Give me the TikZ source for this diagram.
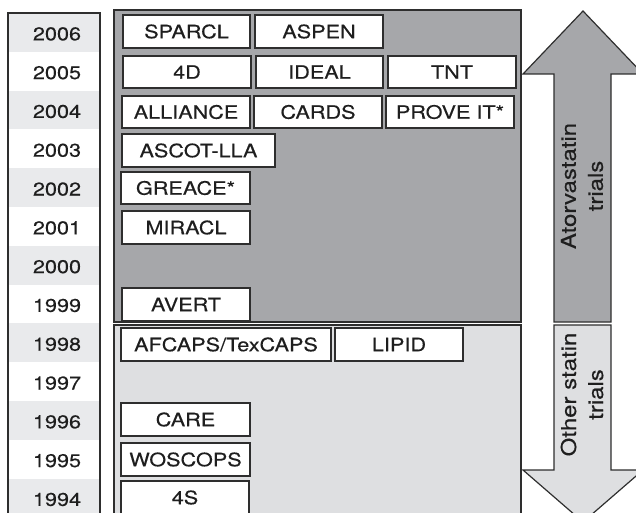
\documentclass[tikz,border=0pt]{standalone}
\usepackage{fontspec}
\setmainfont{TeX Gyre Heros}[FakeStretch=1.17,FakeBold=0.3]
\definecolor{darkpanel}{HTML}{A6A7AA}
\definecolor{lightpanel}{HTML}{DEDFE1}
\definecolor{yeargray}{HTML}{E9EAEC}
\definecolor{inkline}{HTML}{2E2E2E}
\definecolor{inktext}{HTML}{1E1E1E}
\begin{document}
\begin{tikzpicture}[x=1pt,y=-1pt,
  tbox/.style={draw=inkline, fill=white, line width=1.2pt, inner sep=0pt,
    minimum height=33pt, text=inktext, font=\fontsize{18.5}{20}\selectfont},
  yearlab/.style={text=inktext, font=\fontsize{18.5}{20}\selectfont},
  panel/.style={draw=inkline, line width=1.2pt},
  rotlab/.style={rotate=90, align=center, text=inktext,
    font=\fontsize{20.5}{27}\selectfont}]
\useasboundingbox (0,0) rectangle (636,513);
\clip (0,0) rectangle (636,513);
% year column
\foreach \i/\yr in {0/2006,1/2005,2/2004,3/2003,4/2002,5/2001,6/2000,7/1999,8/1998,9/1997,10/1996,11/1995,12/1994}{
  \pgfmathtruncatemacro{\odd}{mod(\i,2)}
  \ifnum\odd=0
    \fill[yeargray] (8,{13+38.8*\i}) rectangle (100,{13+38.8*(\i+1)});
  \fi
  \node[yearlab] (y\yr) at (57,{13+38.8*(\i+0.5)+1.5}) {\yr};
}
\draw[panel] (8,530) -- (8,13) -- (100,13) -- (100,530);
% panels
\draw[panel, fill=darkpanel] (114,10) rectangle (521,322);
\draw[panel, fill=lightpanel] (114,325) rectangle (521,530);
% arrows
\draw[panel, fill=darkpanel] (554,322) -- (554,74) -- (523,74) -- (583,11) -- (643,74) -- (611,74) -- (611,322) -- cycle;
\draw[panel, fill=lightpanel] (554,325) -- (554,470) -- (523,470) -- (583,522) -- (643,470) -- (611,470) -- (611,325) -- cycle;
\node[rotlab] (ator) at (582,186) {Atorvastatin\\trials};
\node[rotlab] (other) at (582,394.5) {Other statin\\trials};
% trial boxes
\node[tbox, minimum width=127pt] (sparcl) at (186.5,31.5) {SPARCL};
\node[tbox, minimum width=128pt] (aspen) at (319,31.5) {ASPEN};
\node[tbox, minimum width=128pt, minimum height=32pt] (fourd) at (187,72) {4D};
\node[tbox, minimum width=127pt, minimum height=32pt] (ideal) at (319.5,72) {IDEAL};
\node[tbox, minimum width=128pt, minimum height=32pt] (tnt) at (452,72) {TNT};
\node[tbox, minimum width=128pt, minimum height=32pt] (alliance) at (186,112) {ALLIANCE};
\node[tbox, minimum width=128pt, minimum height=32pt] (cards) at (318,112) {CARDS};
\node[tbox, minimum width=128pt, minimum height=32pt] (prove) at (450,112) {PROVE IT*};
\node[tbox, minimum width=153pt] (ascot) at (198.5,150.5) {ASCOT-LLA};
\node[tbox, minimum width=129pt, minimum height=32pt] (greace) at (185.5,188) {GREACE*};
\node[tbox, minimum width=128pt] (miracl) at (186,227.5) {MIRACL};
\node[tbox, minimum width=128pt] (avert) at (186,304.5) {AVERT};
\node[tbox, minimum width=210pt] (afcaps) at (226,344.5) {AFCAPS/TexCAPS};
\node[tbox, minimum width=128pt] (lipid) at (399,344.5) {LIPID};
\node[tbox, minimum width=129pt] (care) at (185.5,419.5) {CARE};
\node[tbox, minimum width=129pt] (woscops) at (185.5,459.5) {WOSCOPS};
\node[tbox, minimum width=128pt] (fours) at (185,497.5) {4S};
\end{tikzpicture}
\end{document}
